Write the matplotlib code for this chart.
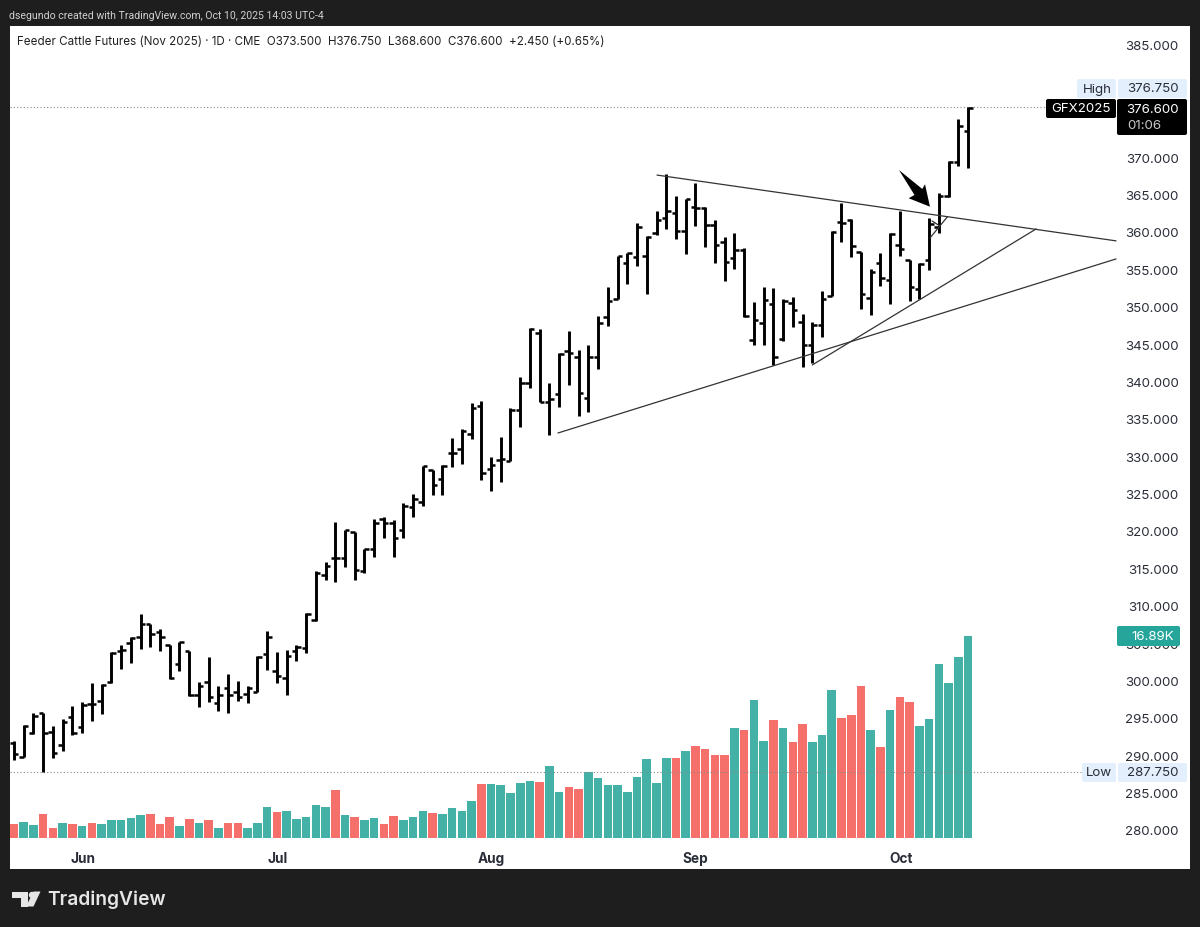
#!/usr/bin/env python3

import matplotlib
matplotlib.use('Agg')
import matplotlib.pyplot as plt
from matplotlib.patches import Polygon, Circle, Rectangle, FancyBboxPatch

plt.rcParams['font.family'] = ['Inter', 'DejaVu Sans']

opens = [291.6, 289.8, 292.95, 295.6, 293.15, 291.3, 295.05, 293.75, 296.85, 297.3,
         299.75, 304.0, 305.05, 305.85, 307.5, 306.5, 304.75, 302.15, 303.95, 298.05,
         299.85, 296.95, 299.05, 298.5, 298.15, 298.5, 303.55, 301.3, 300.3, 304.0,
         304.3, 308.1, 314.1, 316.35, 316.35, 319.8, 314.7, 317.55, 321.6, 321.1,
         320.1, 323.25, 323.9, 328.15, 326.9, 330.45, 330.95, 332.95, 336.7, 328.35,
         329.5, 329.4, 336.15, 339.75, 346.45, 337.3, 338.25, 344.05, 343.3, 337.8,
         343.3, 348.65, 351.0, 355.9, 356.6, 356.75, 359.8, 361.8, 362.55, 360.1,
         363.3, 363.15, 360.9, 358.7, 356.55, 357.55, 345.55, 347.85, 350.3, 345.65,
         350.45, 348.0, 344.85, 347.55, 351.4, 361.35, 361.6, 357.25, 351.1, 355.9,
         353.55, 358.25, 356.25, 352.35, 356.25, 360.7, 364.8, 369.4, 373.5]
highs = [291.95, 294.05, 295.6, 295.7, 293.9, 294.8, 296.6, 297.15, 299.6, 299.5,
         303.75, 304.75, 305.85, 308.9, 307.5, 306.9, 304.75, 305.2, 303.95, 299.85,
         303.1, 299.3, 300.85, 299.95, 299.3, 303.25, 306.55, 303.85, 304.05, 304.75,
         309.05, 314.7, 315.9, 321.15, 320.1, 319.8, 317.65, 321.55, 321.8, 321.45,
         323.7, 325.0, 328.75, 328.15, 328.8, 332.4, 333.6, 337.15, 337.4, 329.85,
         332.6, 336.4, 340.65, 347.1, 347.0, 339.75, 343.75, 346.8, 344.2, 344.85,
         348.8, 352.65, 356.8, 357.2, 361.25, 359.5, 362.8, 367.7, 364.85, 364.4,
         366.5, 363.35, 361.6, 359.35, 359.8, 357.8, 350.65, 352.6, 352.55, 351.0,
         351.35, 349.0, 348.0, 352.1, 360.15, 363.8, 361.7, 357.25, 355.0, 357.15,
         359.8, 362.85, 356.25, 355.8, 361.8, 365.15, 369.5, 375.1, 376.75]
lows = [289.36, 289.8, 292.85, 287.75, 289.6, 290.6, 292.7, 293.0, 294.6, 295.5,
        299.6, 301.5, 302.3, 304.15, 304.45, 304.0, 300.2, 301.25, 297.9, 296.5,
        297.1, 295.9, 295.7, 297.3, 296.95, 298.4, 301.4, 299.6, 298.05, 302.6,
        303.65, 308.0, 313.5, 313.2, 315.2, 313.45, 314.4, 316.45, 319.0, 316.45,
        319.0, 321.8, 323.4, 324.8, 324.8, 328.6, 328.95, 332.3, 326.8, 325.35,
        326.6, 329.35, 333.95, 339.15, 337.2, 332.85, 336.6, 339.5, 335.4, 335.85,
        341.6, 347.4, 351.0, 353.0, 355.45, 351.7, 359.6, 360.45, 359.0, 357.05,
        360.85, 358.0, 355.8, 353.45, 355.1, 348.65, 344.85, 344.85, 342.2, 345.45,
        347.3, 341.9, 342.4, 346.0, 351.4, 358.7, 356.7, 349.65, 348.9, 352.75,
        350.35, 356.8, 350.8, 351.0, 354.9, 359.8, 364.7, 368.8, 368.6]
closes = [290.15, 293.9, 295.25, 292.95, 290.25, 294.4, 293.0, 296.7, 296.85, 299.35,
          303.65, 304.05, 305.65, 307.5, 306.15, 305.75, 300.3, 305.1, 298.05, 299.3,
          297.75, 298.05, 298.05, 297.85, 299.05, 303.1, 305.75, 300.6, 303.25, 304.5,
          308.85, 314.35, 315.35, 316.35, 320.1, 314.8, 317.6, 321.0, 321.0, 319.0,
          323.35, 324.25, 328.7, 326.15, 328.75, 330.45, 333.4, 336.4, 327.7, 328.8,
          329.6, 336.15, 339.85, 347.0, 337.3, 337.65, 343.65, 343.75, 338.4, 343.3,
          347.85, 350.8, 356.8, 357.15, 360.7, 359.35, 361.6, 362.85, 360.1, 364.35,
          363.15, 360.9, 358.25, 355.95, 357.55, 348.75, 348.2, 350.9, 343.2, 350.8,
          349.55, 344.85, 347.55, 351.0, 360.0, 361.25, 358.15, 351.7, 354.7, 353.8,
          359.7, 357.65, 352.65, 355.65, 361.0, 364.8, 369.4, 374.15, 376.6]

# volume in thousands
volumes = [1.17, 1.31, 1.09, 2.01, 0.86, 1.23, 1.17, 1.03, 1.23, 1.17,
           1.50, 1.50, 1.64, 1.90, 1.98, 1.17, 1.78, 1.03, 1.56, 1.28,
           1.50, 0.86, 1.23, 1.23, 0.86, 1.28, 2.56, 2.15, 2.26, 1.56,
           1.78, 2.73, 2.56, 3.99, 1.90, 1.73, 1.48, 1.64, 1.17, 1.87,
           1.50, 1.76, 2.26, 2.06, 2.01, 2.48, 2.29, 3.07, 4.51, 4.49,
           4.40, 3.76, 4.57, 4.74, 4.65, 5.99, 3.87, 4.24, 4.07, 5.49,
           5.02, 4.43, 4.40, 3.85, 5.13, 6.61, 4.63, 6.72, 6.66, 7.30,
           7.69, 7.44, 6.97, 6.91, 9.22, 9.03, 11.51, 8.08, 9.87, 9.17,
           8.03, 9.53, 8.03, 8.61, 12.40, 10.06, 10.28, 12.71, 9.00, 7.64,
           10.73, 11.79, 11.40, 9.39, 9.98, 14.55, 12.96, 15.13, 16.89]
vol_dirs = ('rggrrgrgrg' 'ggggrrrgrg' 'rgrrgggrgg' 'gggrgrggrr' 'gggrggggrg'
            'ggggrggrrg' 'ggggggggrg' 'rrrrgrggrg' 'rrgggrrrgr' 'grrgggggg')

price_ticks = [280, 285, 290, 295, 300, 305, 310, 315, 320, 325, 330, 335, 340,
               345, 350, 355, 360, 365, 370, 375, 380, 385]
month_pos = [7.1, 27.1, 49, 70, 91.1]
month_labels = ['Jun', 'Jul', 'Aug', 'Sep', 'Oct']

# trend lines, bar index / price
top_line_x, top_line_y = [66.05, 113.2], [367.6, 358.8]
low_line_x, low_line_y = [55.88, 113.2], [333.1, 356.38]
mid_line_x, mid_line_y = [82.0, 105.0], [342.2, 360.4]
short_line_x, short_line_y = [94.1, 95.9], [359.2, 362.05]
small_line_x, small_line_y = [94.3, 95.1], [361.46, 360.8]
arrow_x = [90.9, 93.3, 93.58, 94.09, 91.9, 92.5]
arrow_y = [368.28, 365.74, 366.37, 363.37, 364.5, 364.94]

high_price = 376.75
low_price = 287.75

DARK = '#1e1e1e'
GREEN = '#44b1a6'
RED = '#f5706b'
LABEL_BLUE = '#e3effc'
TEXT = '#2a2e39'

W, H = 1200, 928
fig = plt.figure(figsize=(W / 100, H / 100), dpi=100, facecolor=DARK)

# panel runs from x=10 to 1190 and y=27 to 870 in pixels
rect = [10 / W, 1 - 870 / H, 1180 / W, 843 / H]
x_range = (-0.411, 120.8)

vol_ax = fig.add_axes(rect, zorder=1)
vol_ax.set_xlim(x_range)
vol_ax.set_ylim(-2.59, 67.9)
vol_ax.axis('off')
fig.patches.append(Rectangle((rect[0], rect[1]), rect[2], rect[3], transform=fig.transFigure,
                             facecolor='white', edgecolor='none', zorder=0))
xs = list(range(len(closes)))
vol_ax.bar(xs, volumes, width=0.88, color=[GREEN if d == 'g' else RED for d in vol_dirs])

ax = fig.add_axes(rect, zorder=2)
ax.patch.set_alpha(0)
ax.set_xlim(x_range)
ax.set_ylim(274.78, 387.54)
for s in ax.spines.values():
    s.set_visible(False)

ax.set_yticks(price_ticks)
ax.set_yticklabels(['%.3f' % p for p in price_ticks])
ax.tick_params(axis='y', left=False, right=False, labelleft=False, labelright=True,
               pad=-11.6, labelsize=9.6, labelcolor=TEXT)
for t in ax.yaxis.get_major_ticks():
    t.label2.set_horizontalalignment('right')

ax.set_xticks(month_pos)
ax.set_xticklabels(month_labels, fontweight='bold')
ax.tick_params(axis='x', bottom=False, pad=-16.5, labelsize=9.8, labelcolor=TEXT)

ax.hlines(high_price, x_range[0], 106.0, colors='#8a8a8a', lw=0.8, linestyles=(0, (1, 2)), zorder=1)
ax.hlines(low_price, x_range[0], 110.0, colors='#8a8a8a', lw=0.8, linestyles=(0, (1, 2)), zorder=3)

# price bars
ax.vlines(xs, lows, highs, colors='black', lw=2.1, zorder=4)
ax.hlines(opens, [x - 0.46 for x in xs], xs, colors='black', lw=1.8, zorder=4)
ax.hlines(closes, xs, [x + 0.46 for x in xs], colors='black', lw=1.8, zorder=4)

for lx, ly in [(top_line_x, top_line_y), (low_line_x, low_line_y), (mid_line_x, mid_line_y),
               (short_line_x, short_line_y), (small_line_x, small_line_y)]:
    ax.plot(lx, ly, color='#333333', lw=0.9, zorder=5, solid_capstyle='round')
ax.add_patch(Polygon(list(zip(arrow_x, arrow_y)), closed=True, facecolor='black',
                     edgecolor='none', zorder=6))

# overlay in pixel coordinates for the header, price labels and logo
ov = fig.add_axes([0, 0, 1, 1], zorder=3)
ov.set_xlim(0, W)
ov.set_ylim(H - 1, -1)
ov.patch.set_alpha(0)
ov.axis('off')


def box(x0, y0, x1, y1, color, rounding=2):
    ov.add_patch(FancyBboxPatch((x0 + rounding, y0 + rounding), x1 - x0 - 2 * rounding,
                                y1 - y0 - 2 * rounding, boxstyle='round,pad=%g,rounding_size=%g' % (rounding, rounding),
                                facecolor=color, edgecolor='none'))


ov.text(9, 15, 'dsegundo created with TradingView.com, Oct 10, 2025 14:03 UTC-4',
        color='#d0d0d0', fontsize=7.6, va='center', ha='left', family='Roboto')
ov.text(17, 41, 'Feeder Cattle Futures (Nov 2025) · 1D · CME  O373.500  H376.750  L368.600  C376.600  +2.450 (+0.65%)',
        color='#222222', fontsize=8.35, va='center', ha='left')

box(1077, 79, 1116, 98, LABEL_BLUE)
box(1118, 79, 1187, 98, LABEL_BLUE)
ov.text(1097, 88.5, 'High', color=TEXT, fontsize=9.6, ha='center', va='center')
ov.text(1179, 88.5, '376.750', color=TEXT, fontsize=9.6, ha='right', va='center')

box(1046, 99, 1116, 118, 'black')
box(1117, 99, 1187, 135, 'black')
ov.text(1081, 108.5, 'GFX2025', color='white', fontsize=9.6, ha='center', va='center')
ov.text(1179, 109, '376.600', color='white', fontsize=9.6, ha='right', va='center')
ov.text(1127, 125, '01:06', color='#c8c8c8', fontsize=9.6, ha='left', va='center')

box(1117, 626, 1180, 646, '#26a69a')
ov.text(1174, 636, '16.89K', color='white', fontsize=9.6, ha='right', va='center')

box(1082, 763, 1116, 782, LABEL_BLUE)
box(1118, 763, 1187, 782, LABEL_BLUE)
ov.text(1099, 772.5, 'Low', color=TEXT, fontsize=9.6, ha='center', va='center')
ov.text(1179, 772.5, '287.750', color=TEXT, fontsize=9.6, ha='right', va='center')

# TradingView logo
logo_color = '#e6e6e6'
ov.add_patch(Polygon([(11.5, 891.5), (28, 891.5), (28, 906.5), (20.5, 906.5), (20.5, 898), (11.5, 898)],
                     closed=True, facecolor=logo_color, edgecolor='none'))
ov.add_patch(Circle((32, 895), 3.2, facecolor=logo_color, edgecolor='none'))
ov.add_patch(Polygon([(33.5, 891.5), (40.5, 891.5), (33.5, 906.5), (26, 906.5)],
                     closed=True, facecolor=logo_color, edgecolor='none'))
ov.text(47, 899, 'TradingView', color=logo_color, fontsize=13.8, fontweight='semibold', ha='left', va='center')

fig.savefig('out.png', dpi=100, facecolor=DARK)
